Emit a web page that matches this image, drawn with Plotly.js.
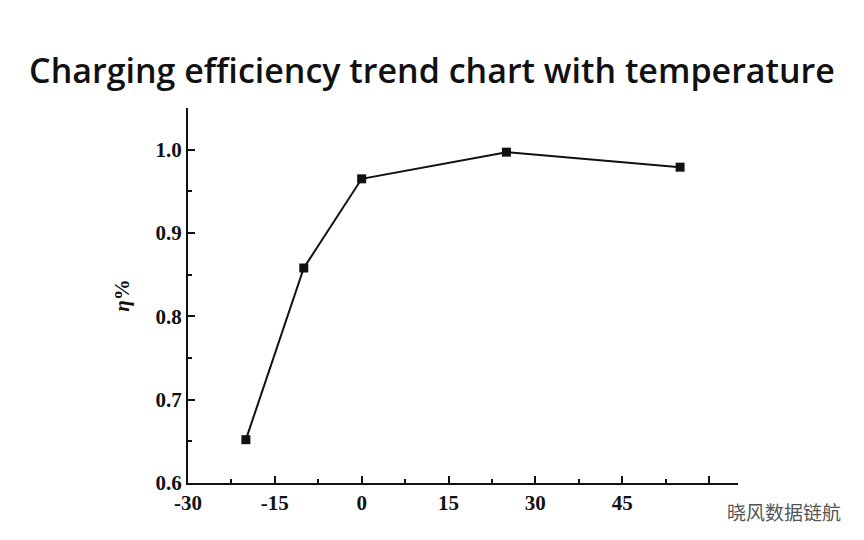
<!DOCTYPE html>
<html><head><meta charset="utf-8">
<script src="https://cdn.plot.ly/plotly-3.0.1.min.js"></script>
<style>body{margin:0;background:#fff}</style></head>
<body><div id="chart" style="width:864px;height:540px"></div>
<script>
// temperature (°C) vs charging efficiency
var temps = [-20, -10, 0, 25, 55];
var efficiency = [0.652, 0.858, 0.965, 0.997, 0.979];
var xTicks = [-30, -15, 0, 15, 30, 45, 60];
var yTicks = [0.6, 0.7, 0.8, 0.9, 1.0];

var trace = {
    x: temps,
    y: efficiency,
    type: 'scatter',
    mode: 'lines+markers',
    line: {color: '#111', width: 2},
    marker: {symbol: 'square', size: 9, color: '#111'}
};

var axisFont = {family: 'Liberation Serif, serif', size: 21, color: '#111', weight: 'bold'};

var layout = {
    width: 864, height: 540,
    margin: {l: 188, r: 126, t: 108, b: 57},
    paper_bgcolor: '#fff', plot_bgcolor: '#fff',
    showlegend: false,
    title: {
        text: 'Charging efficiency trend chart with temperature',
        x: 0.5, xref: 'container', y: 0.89, yref: 'container',
        font: {family: 'Open Sans, sans-serif', size: 34, color: '#111', weight: 600}
    },
    xaxis: {
        range: [-30, 65], tickvals: xTicks, ticktext: ['-30','-15','0','15','30','45','\u00a0'],
        ticks: 'inside', ticklen: 7, tickwidth: 2, tickcolor: '#111',
        minor: {dtick: 7.5, ticks: 'inside', ticklen: 4, tickcolor: '#111'},
        showgrid: false, zeroline: false, showline: true, linewidth: 2, linecolor: '#111',
        tickfont: axisFont
    },
    yaxis: {
        range: [0.6, 1.05], tickvals: yTicks, ticktext: ['0.6','0.7','0.8','0.9','1.0'],
        ticks: 'inside', ticklen: 7, tickwidth: 2, tickcolor: '#111',
        minor: {dtick: 0.05, ticks: 'inside', ticklen: 4, tickcolor: '#111'},
        showgrid: false, zeroline: false, showline: true, linewidth: 2, linecolor: '#111',
        tickfont: axisFont,
        title: {text: '<i>η</i>%', standoff: 20, font: {family: 'Liberation Serif, serif', size: 21, color: '#111', weight: 'bold'}}
    },
    annotations: [{
        text: '晓风数据链航', xref: 'paper', yref: 'paper', x: 1.19, y: -0.035,
        xanchor: 'right', yanchor: 'top', showarrow: false,
        font: {family: 'Noto Sans CJK SC', size: 19, color: '#555'}
    }]
};

Plotly.newPlot('chart', [trace], layout, {displayModeBar: false});
</script></body></html>
